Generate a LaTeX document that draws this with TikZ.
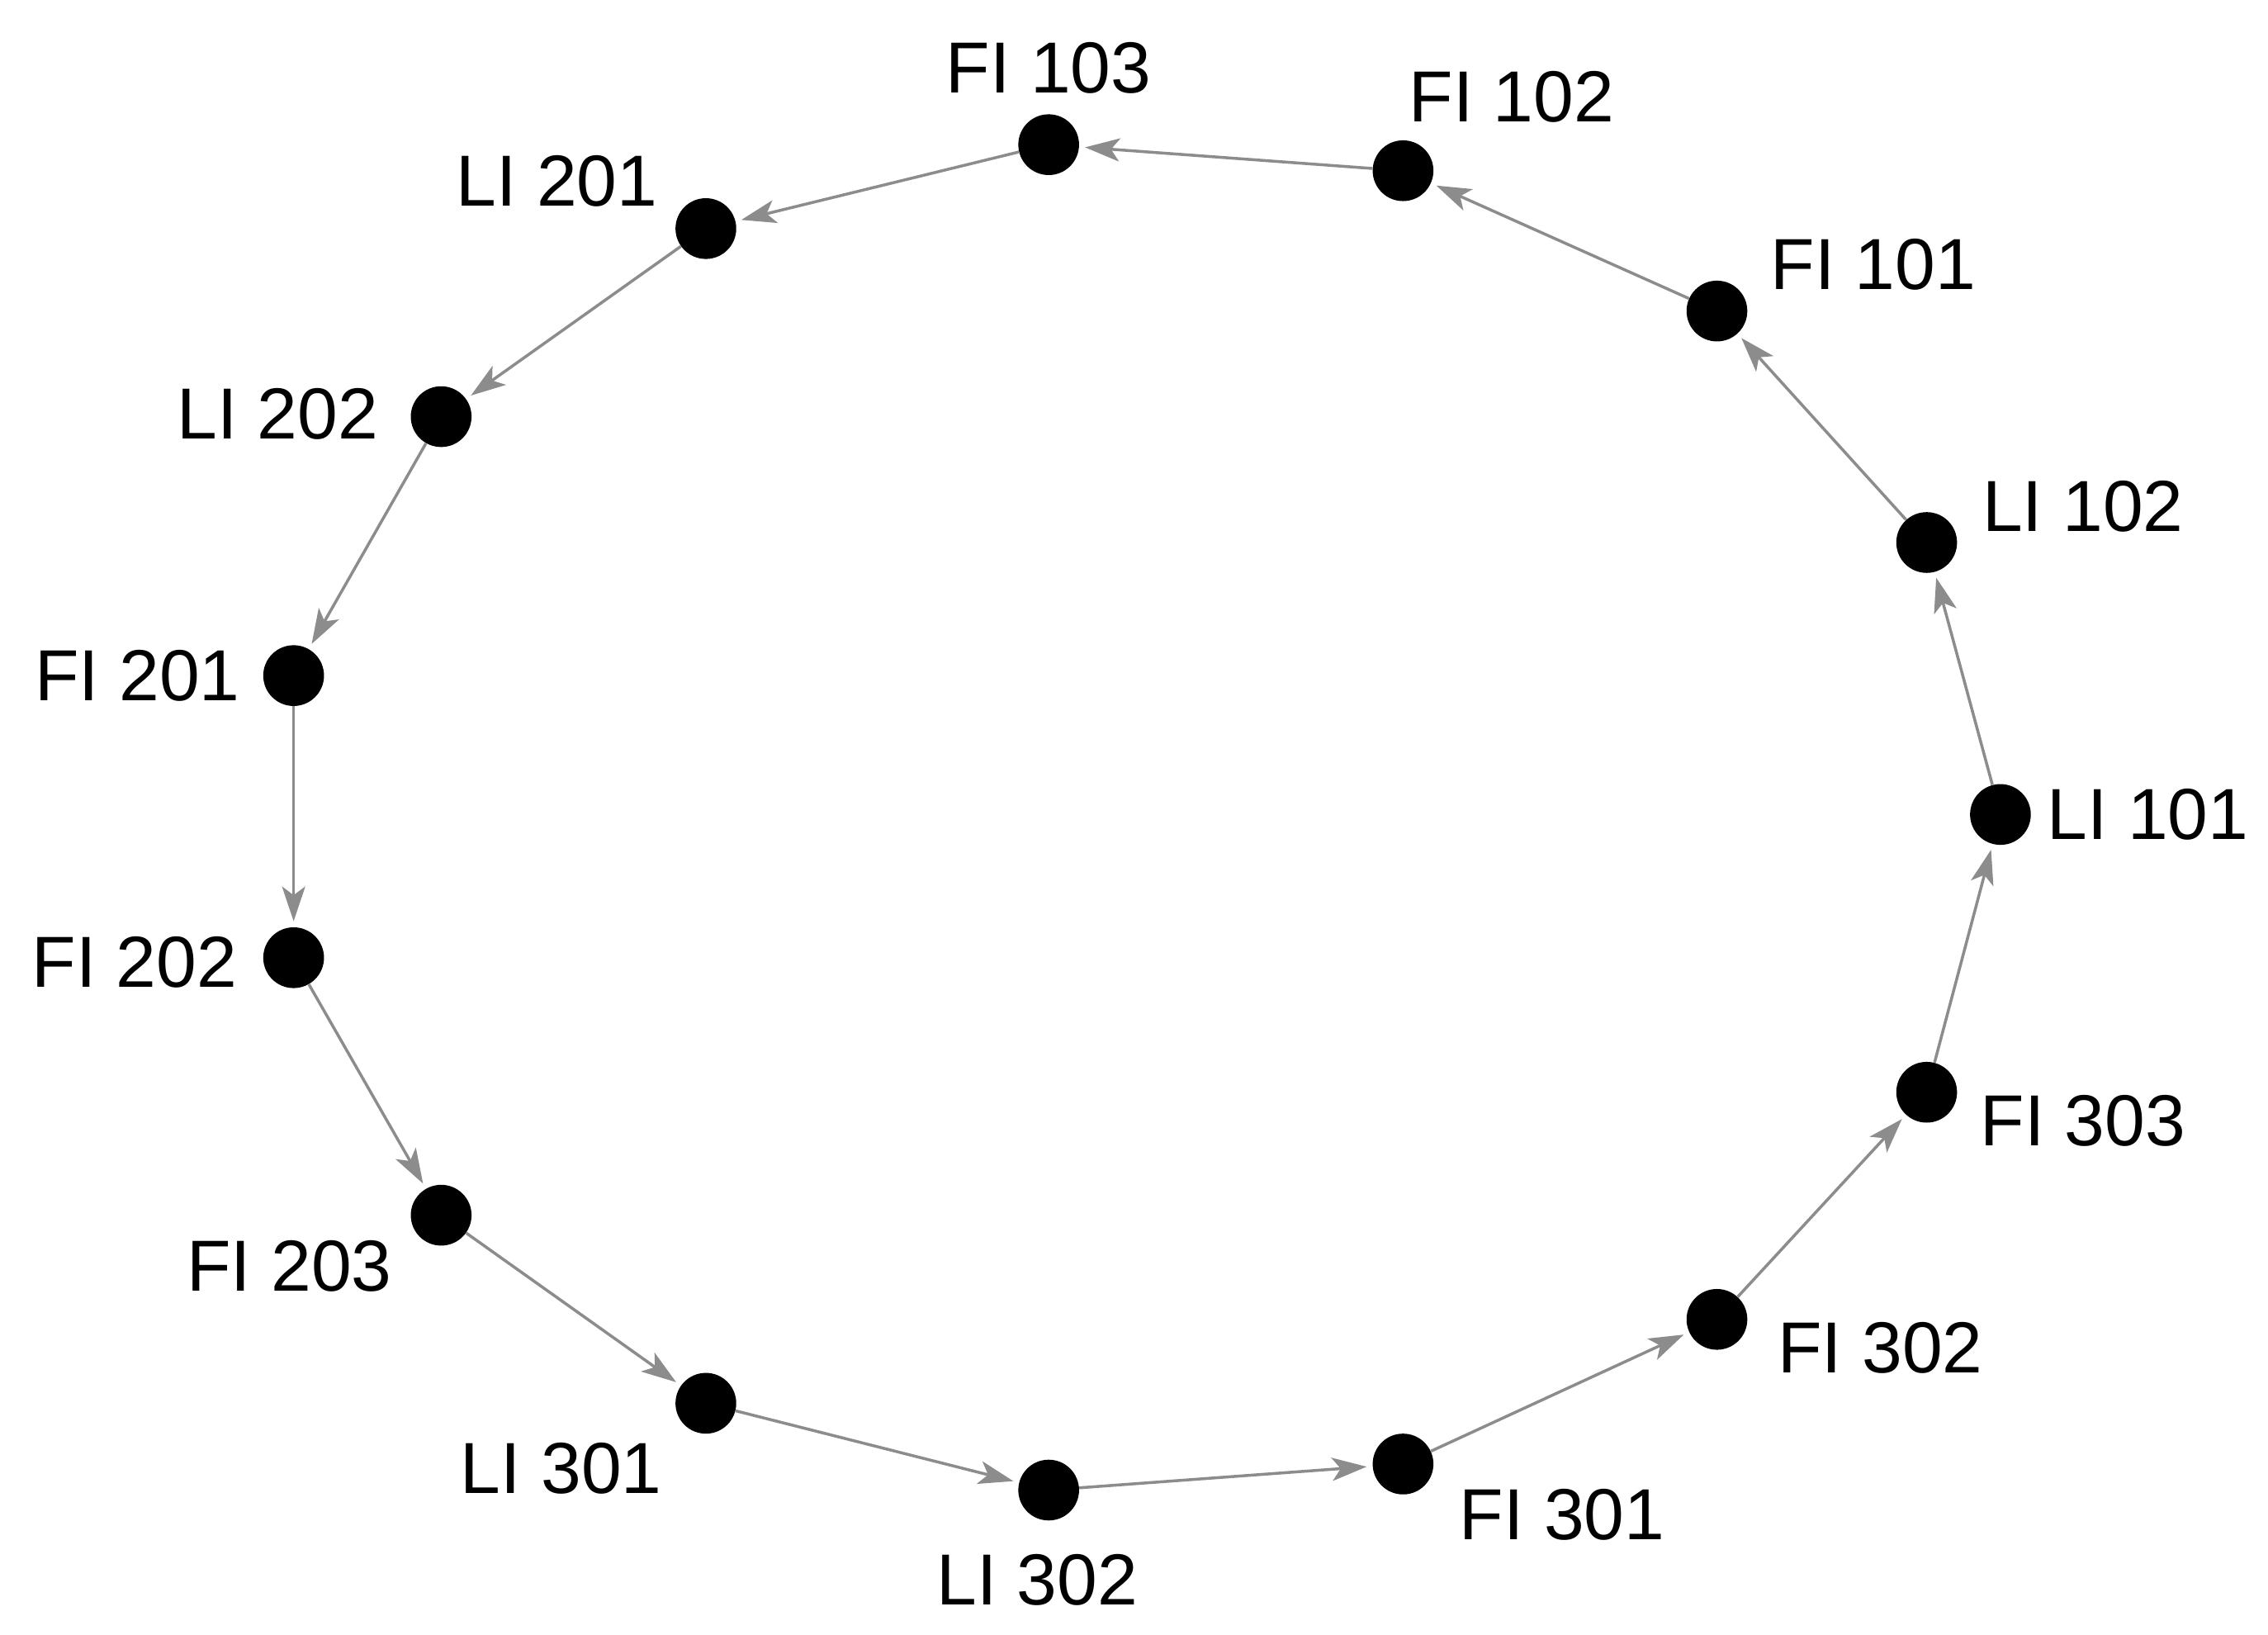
\documentclass[tikz,border=0pt]{standalone}
\usepackage{fontspec}
\setmainfont{Liberation Sans}
\usetikzlibrary{arrows.meta}
\begin{document}
\begin{tikzpicture}[x=1pt,y=-1pt,
  dot/.style={circle,fill=black,inner sep=0pt,minimum size=42pt},
  lbl/.style={font=\fontsize{50}{50}\selectfont,inner sep=0pt},
  edge/.style={draw=gray!90,line width=2pt,-{Stealth[length=24pt,width=16pt,inset=6pt]},shorten >=4pt}]
\useasboundingbox (0,0) rectangle (1568,1130);
\foreach \n/\x/\y/\tx/\ty/\t in {
  a/1383/563/1485/563/LI 101, b/1332/375/1440/350/LI 102, c/1187/215/1295/183/FI 101,
  d/970/118/1045/67/FI 102, e/725/100/725/47/FI 103, f/488/158/385/125/LI 201,
  g/305/288/192/286/LI 202, h/203/467/95/467/FI 201, i/203/662/93/665/FI 202,
  j/305/840/200/875/FI 203, k/488/970/388/1015/LI 301, l/725/1030/717/1092/LI 302,
  m/970/1012/1080/1047/FI 301, n/1187/912/1300/932/FI 302, o/1332/755/1440/775/FI 303}{
  \node[dot] (\n) at (\x,\y) {};
  \node[lbl] (t\n) at (\tx,\ty) {\t};
}
\foreach \s/\t in {a/b,b/c,c/d,d/e,e/f,f/g,g/h,h/i,i/j,j/k,k/l,l/m,m/n,n/o,o/a}
  \draw[edge] (\s) -- (\t);
\end{tikzpicture}
\end{document}
